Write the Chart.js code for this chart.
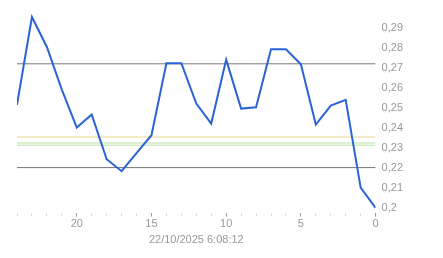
<!DOCTYPE html>
<html>
<head>
<meta charset="utf-8">
<script src="https://cdn.jsdelivr.net/npm/chart.js@4"></script>
<style>
  html, body { margin: 0; padding: 0; background: #fff; }
  #wrap { width: 443px; height: 258px; }
</style>
</head>
<body>
<div id="wrap"><canvas id="chart"></canvas></div>
<script>
// Samples, oldest first (x = 24 ... 0)
const xValues = [24, 23, 22, 21, 20, 19, 18, 17, 16, 15, 14, 13, 12, 11, 10, 9, 8, 7, 6, 5, 4, 3, 2, 1, 0];
const prices = [0.2514, 0.2953, 0.2803, 0.2590, 0.2400, 0.2465, 0.2242, 0.2182, 0.2272, 0.2362, 0.2722, 0.2722,
                0.2520, 0.2420, 0.2740, 0.2495, 0.2502, 0.2792, 0.2792, 0.2717, 0.2415, 0.2510, 0.2539, 0.2100, 0.1998];
const yTicks = [0.20, 0.21, 0.22, 0.23, 0.24, 0.25, 0.26, 0.27, 0.28, 0.29];
const refLevels = [0.2719, 0.2353, 0.2323, 0.2312, 0.2200];
const refColors = ['#777777', '#ecd58e', '#b9e3a6', '#b9e3a6', '#777777'];
const xTitle = '22/10/2025 6:08:12';

const datasets = [{
    data: xValues.map((x, i) => ({ x: x, y: prices[i] })),
    borderColor: '#2b63d6',
    borderWidth: 2,
    pointRadius: 0,
    tension: 0,
    order: 0
}];

// horizontal reference levels across the whole range
refLevels.forEach((lvl, i) => {
    datasets.push({
        data: [{ x: 24, y: lvl }, { x: 0, y: lvl }],
        borderColor: refColors[i],
        borderWidth: 1,
        pointRadius: 0,
        order: 1
    });
});

new Chart(document.getElementById('chart'), {
    type: 'line',
    data: { datasets: datasets },
    options: {
        responsive: true,
        maintainAspectRatio: false,
        animation: false,
        layout: { padding: { left: 17, top: 0, right: 34, bottom: 11 } },
        plugins: {
            legend: { display: false },
            tooltip: { enabled: false }
        },
        scales: {
            x: {
                type: 'linear',
                reverse: true,
                min: 0,
                max: 24,
                border: { display: false },
                grid: {
                    drawOnChartArea: false,
                    drawTicks: true,
                    tickLength: 4,
                    tickColor: ctx => (ctx.tick && ctx.tick.value % 5 === 0) ? '#999999' : '#dddddd'
                },
                ticks: {
                    stepSize: 1,
                    autoSkip: false,
                    maxRotation: 0,
                    padding: 1,
                    color: '#999999',
                    font: { family: 'Liberation Sans', size: 11 },
                    callback: v => (v % 5 === 0 ? String(v) : '')
                },
                title: {
                    display: true,
                    text: xTitle,
                    color: '#999999',
                    padding: { top: 2, bottom: 0 },
                    font: { family: 'Liberation Sans', size: 11 }
                }
            },
            y: {
                position: 'right',
                min: 0.1975,
                max: 0.2975,
                border: { display: false },
                grid: { display: false, drawTicks: false },
                afterBuildTicks: axis => { axis.ticks = yTicks.map(v => ({ value: v })); },
                ticks: {
                    padding: 6,
                    color: '#999999',
                    font: { family: 'Liberation Sans', size: 11 },
                    callback: v => String(Math.round(v * 100) / 100).replace('.', ',')
                }
            }
        }
    }
});
</script>
</body>
</html>
